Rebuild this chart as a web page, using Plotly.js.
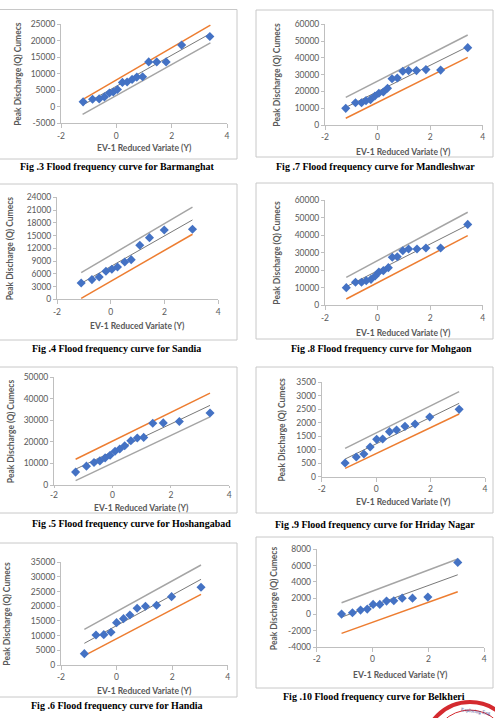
<!DOCTYPE html>
<html>
<head>
<meta charset="utf-8">
<script src="https://cdn.plot.ly/plotly-3.0.1.min.js"></script>
<style>html,body{margin:0;padding:0;background:#fff;}#chart{width:495px;height:718px;}</style>
</head>
<body>
<div id="chart"></div>
<script>
// ---------------- DATA ----------------
const barmanghatY = [-1.2,-0.86,-0.62,-0.43,-0.25,-0.11,0.04,0.22,0.39,0.57,0.74,0.95,1.17,1.46,1.8,2.36,3.38];
const barmanghatQ = [1500,2300,2400,3000,4200,4500,5250,7400,7500,8300,9000,9100,13600,13600,13600,18700,21300];
const barmanghatEnds = [-1.22, 3.4];
const barmanghatFit = [500, 22200];
const barmanghatOrange = [2200, 24750];
const barmanghatGray = [-2300, 19400];

const mandleshwarY = [-1.21,-0.84,-0.61,-0.44,-0.27,-0.10,0.05,0.22,0.38,0.55,0.75,0.96,1.18,1.48,1.84,2.4,3.43];
const mandleshwarQ = [9930,13300,13300,14500,15100,17300,18900,19700,21900,27600,28000,32000,32400,32400,33000,32700,46100];
const mandleshwarEnds = [-1.21, 3.43];
const mandleshwarFit = [10500, 46700];
const mandleshwarOrange = [4000, 40300];
const mandleshwarGray = [16500, 53600];

const sandiaY = [-1.10,-0.70,-0.43,-0.18,0.04,0.25,0.52,0.76,1.08,1.44,1.99,3.04];
const sandiaQ = [3840,4630,5250,6590,7060,7600,8780,9330,12700,14500,16300,16470];
const sandiaEnds = [-1.1, 3.04];
const sandiaFit = [3760, 18670];
const sandiaOrange = [240, 15300];
const sandiaGray = [6270, 21700];

const mohgaonY = [-1.19,-0.84,-0.61,-0.43,-0.25,-0.09,0.05,0.22,0.41,0.56,0.75,0.96,1.18,1.50,1.84,2.40,3.43];
const mohgaonQ = [10060,13100,13100,14050,14800,16700,19000,19750,21450,27340,27700,31100,32100,32100,32650,32650,46100];
const mohgaonEnds = [-1.19, 3.43];
const mohgaonFit = [10630, 45750];
const mohgaonOrange = [3600, 39700];
const mohgaonGray = [15950, 53000];

const hoshangabadY = [-1.26,-0.89,-0.63,-0.43,-0.25,-0.08,0.09,0.25,0.42,0.63,0.85,1.07,1.38,1.74,2.29,3.34];
const hoshangabadQ = [5980,8740,10430,11200,12580,13800,15640,16700,18250,20550,21800,22100,28700,28830,29450,33440];
const hoshangabadEnds = [-1.26, 3.34];
const hoshangabadFit = [7360, 36960];
const hoshangabadOrange = [11960, 42640];
const hoshangabadGray = [2000, 31600];

const hridayY = [-1.14,-0.73,-0.45,-0.22,0.02,0.24,0.49,0.75,1.06,1.43,1.97,3.05];
const hridayQ = [507,730,841,1100,1385,1397,1670,1731,1867,1954,2214,2498];
const hridayEnds = [-1.14, 3.05];
const hridayFit = [655, 2720];
const hridayOrange = [309, 2325];
const hridayGray = [1051, 3154];

const handiaY = [-1.16,-0.74,-0.46,-0.20,0.0,0.25,0.48,0.74,1.04,1.44,1.98,3.04];
const handiaQ = [3860,10230,10340,11140,14430,15800,17050,19320,20000,20340,23300,26480];
const handiaEnds = [-1.16, 3.04];
const handiaFit = [7390, 29200];
const handiaOrange = [3180, 24090];
const handiaGray = [12160, 34090];

const belkheriY = [-1.11,-0.72,-0.43,-0.19,0.02,0.26,0.50,0.76,1.06,1.43,1.98,3.05];
const belkheriQ = [40,205,530,655,1230,1230,1640,1680,2000,2000,2130,6390];
const belkheriEnds = [-1.11, 3.05];
const belkheriFit = [-330, 4870];
const belkheriOrange = [-2330, 2780];
const belkheriGray = [1430, 6800];

const captions = [
  "Fig .3 Flood frequency curve for Barmanghat",
  "Fig .7 Flood frequency curve for Mandleshwar",
  "Fig .4 Flood frequency curve for Sandia",
  "Fig .8 Flood frequency curve for Mohgaon",
  "Fig .5 Flood frequency curve for Hoshangabad",
  "Fig .9 Flood frequency curve for Hriday Nagar",
  "Fig .6 Flood frequency curve for Handia",
  "Fig .10 Flood frequency curve for Belkheri"
];
const xTitle = "EV-1 Reduced Variate (Y)";
const yTitle = "Peak Discharge (Q) Cumecs";
const xTicks = [-2, 0, 2, 4];

const series = [
  {y: barmanghatY, q: barmanghatQ, e: barmanghatEnds, fit: barmanghatFit, o: barmanghatOrange, g: barmanghatGray},
  {y: mandleshwarY, q: mandleshwarQ, e: mandleshwarEnds, fit: mandleshwarFit, o: mandleshwarOrange, g: mandleshwarGray},
  {y: sandiaY, q: sandiaQ, e: sandiaEnds, fit: sandiaFit, o: sandiaOrange, g: sandiaGray},
  {y: mohgaonY, q: mohgaonQ, e: mohgaonEnds, fit: mohgaonFit, o: mohgaonOrange, g: mohgaonGray},
  {y: hoshangabadY, q: hoshangabadQ, e: hoshangabadEnds, fit: hoshangabadFit, o: hoshangabadOrange, g: hoshangabadGray},
  {y: hridayY, q: hridayQ, e: hridayEnds, fit: hridayFit, o: hridayOrange, g: hridayGray},
  {y: handiaY, q: handiaQ, e: handiaEnds, fit: handiaFit, o: handiaOrange, g: handiaGray},
  {y: belkheriY, q: belkheriQ, e: belkheriEnds, fit: belkheriFit, o: belkheriOrange, g: belkheriGray}
];

// ---------------- LAYOUT (pixel placement) ----------------
const W = 495, H = 718;
const spec = [
  {px:[61,227],    py:[24.3,123.3],  yr:[-5000,25000], dt:5000,  tl:4, ytx:18,  xty:148, cap:[117,166], box:[-2,9.5,237,159]},
  {px:[325,482.7], py:[24.3,125],    yr:[0,60000],     dt:10000, tl:4, ytx:277, xty:152, cap:[375,166], box:[256,10,493,157]},
  {px:[57,218.3],  py:[197.3,299.3], yr:[0,24000],     dt:3000,  tl:4, ytx:10,  xty:326, cap:[116,348], box:[-2,184,237,340]},
  {px:[325,482.7], py:[200,305.3],   yr:[0,60000],     dt:10000, tl:4, ytx:277, xty:333, cap:[381,348], box:[256,183,493,339]},
  {px:[54,229.3],  py:[377.3,485],   yr:[0,50000],     dt:10000, tl:2, ytx:11,  xty:508, cap:[131,523], box:[-2,367,237,513]},
  {px:[321.7,485], py:[382.3,476.7], yr:[0,3500],      dt:500,   tl:4, ytx:281, xty:502, cap:[375,524], box:[256,367,493,513]},
  {px:[61,227.7],  py:[562.3,665],   yr:[0,35000],     dt:5000,  tl:4, ytx:7,   xty:691, cap:[117,705], box:[-2,543,237,697]},
  {px:[316.7,484.3], py:[549.3,647], yr:[-4000,8000],  dt:2000,  tl:4, ytx:274, xty:675, cap:[374,696], box:[256,537,493,688]}
];
const fx = p => p / W;
const fy = p => 1 - p / H;

const tickFont = {family: 'Lato, "Open Sans", sans-serif', size: 8.5, color: '#595959'};
const titleFont = {family: 'Lato, "Open Sans", sans-serif', size: 8.5, color: '#595959', weight: 'bold'};
const capFont = {family: '"Liberation Serif", "Times New Roman", serif', size: 10, color: '#000000', weight: 'bold'};

const traces = [];
const layout = {
  width: W, height: H, margin: {l:0, r:0, t:0, b:0},
  paper_bgcolor: '#ffffff', plot_bgcolor: 'rgba(0,0,0,0)',
  showlegend: false, annotations: [], shapes: []
};

series.forEach((s, i) => {
  const k = i + 1;
  const xa = 'x' + (k === 1 ? '' : k), ya = 'y' + (k === 1 ? '' : k);
  const sp = spec[i];
  traces.push({x: s.e, y: s.g, xaxis: xa, yaxis: ya, mode: 'lines', line: {color: '#A5A5A5', width: 1.5}, hoverinfo: 'skip'});
  traces.push({x: s.e, y: s.o, xaxis: xa, yaxis: ya, mode: 'lines', line: {color: '#ED7D31', width: 1.5}, hoverinfo: 'skip'});
  traces.push({x: s.e, y: s.fit, xaxis: xa, yaxis: ya, mode: 'lines', line: {color: '#555555', width: 0.8}, hoverinfo: 'skip'});
  traces.push({x: s.y, y: s.q, xaxis: xa, yaxis: ya, mode: 'markers',
    marker: {symbol: 'diamond', size: 7, color: '#4472C4', line: {width: 0}}});

  layout['xaxis' + (k === 1 ? '' : k)] = {
    domain: [fx(sp.px[0]), fx(sp.px[1])], anchor: ya, range: [-2, 4],
    tickvals: xTicks, ticktext: xTicks.map(String), showgrid: false, zeroline: false,
    showline: true, linecolor: '#BFBFBF', linewidth: 1, ticks: 'outside', ticklen: sp.tl, tickcolor: '#BFBFBF',
    tickfont: tickFont, fixedrange: true
  };
  const yt = [];
  for (let v = sp.yr[0]; v <= sp.yr[1] + 1e-9; v += sp.dt) yt.push(v);
  layout['yaxis' + (k === 1 ? '' : k)] = {
    domain: [fy(sp.py[1]), fy(sp.py[0])], anchor: xa, range: sp.yr,
    tickvals: yt, ticktext: yt.map(v => String(v)), showgrid: false, zeroline: false,
    showline: true, linecolor: '#BFBFBF', linewidth: 1, ticks: 'outside', ticklen: 3, tickcolor: '#BFBFBF',
    tickfont: tickFont, fixedrange: true
  };
  // axis titles
  layout.annotations.push({xref: 'paper', yref: 'paper', x: fx((sp.px[0] + sp.px[1]) / 2), y: fy(sp.xty),
    text: '<b>' + xTitle + '</b>', showarrow: false, xanchor: 'center', yanchor: 'middle', font: titleFont});
  layout.annotations.push({xref: 'paper', yref: 'paper', x: fx(sp.ytx), y: fy((sp.py[0] + sp.py[1]) / 2),
    text: '<b>' + yTitle + '</b>', showarrow: false, xanchor: 'center', yanchor: 'middle', textangle: -90, font: titleFont});
  // caption
  layout.annotations.push({xref: 'paper', yref: 'paper', x: fx(sp.cap[0]), y: fy(sp.cap[1]),
    text: '<b>' + captions[i] + '</b>', showarrow: false, xanchor: 'center', yanchor: 'middle', font: capFont});
  // panel frame
  layout.shapes.push({type: 'rect', xref: 'paper', yref: 'paper', layer: 'below',
    x0: fx(sp.box[0]), x1: fx(sp.box[2]), y0: fy(sp.box[3]), y1: fy(sp.box[1]),
    line: {color: '#C8C8C8', width: 1}, fillcolor: 'rgba(0,0,0,0)'});
});

// journal stamp at bottom right
layout.shapes.push({type: 'circle', xref: 'paper', yref: 'paper', x0: fx(424), x1: fx(516), y0: fy(794), y1: fy(702),
  line: {color: '#D42A2F', width: 4}, fillcolor: 'rgba(0,0,0,0)'});
layout.shapes.push({type: 'circle', xref: 'paper', yref: 'paper', x0: fx(432), x1: fx(508), y0: fy(786), y1: fy(710),
  line: {color: '#D42A2F', width: 1}, fillcolor: 'rgba(0,0,0,0)'});
layout.annotations.push({xref: 'paper', yref: 'paper', x: fx(476), y: fy(711), text: 'Exploring Eng',
  showarrow: false, xanchor: 'center', yanchor: 'middle', textangle: 8,
  font: {family: '"Liberation Serif", serif', size: 5, color: '#3B3B8C'}});

Plotly.newPlot('chart', traces, layout, {staticPlot: true, displayModeBar: false});
</script>
</body>
</html>
